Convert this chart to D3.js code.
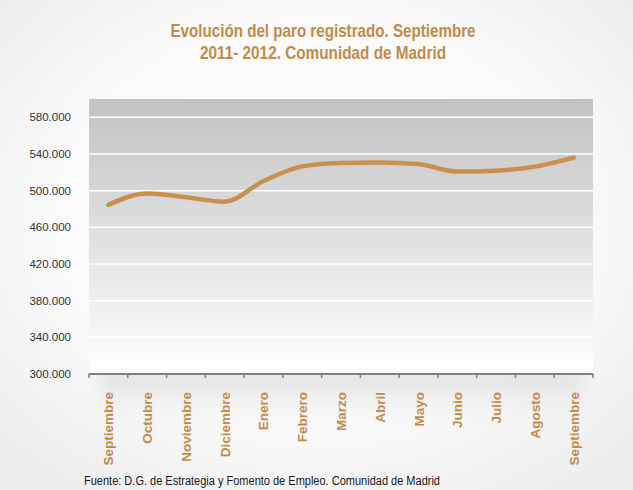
<!DOCTYPE html>
<html><head><meta charset="utf-8">
<script src="https://cdn.jsdelivr.net/npm/d3@7"></script>
<style>html,body{margin:0;padding:0;background:#fff;}svg{display:block;}</style>
</head><body>
<script>
const months = ["Septiembre","Octubre","Noviembre","Diciembre","Enero","Febrero","Marzo","Abril","Mayo","Junio","Julio","Agosto","Septiembre"];
const paro = [484500, 497000, 492800, 488000, 510500, 526500, 530300, 530700, 529000, 520800, 521800, 526200, 536000];
const yTicks = [300000, 340000, 380000, 420000, 460000, 500000, 540000, 580000];
const titleLines = ["Evolución del paro registrado. Septiembre", "2011- 2012. Comunidad de Madrid"];
const source = "Fuente: D.G. de Estrategia y Fomento de Empleo. Comunidad  de Madrid";

const W = 633, H = 490;
const m = {left: 89, right: 40, top: 99, bottom: 116};
const svg = d3.select("body").append("svg").attr("width", W).attr("height", H);
const defs = svg.append("defs");
const bg = defs.append("radialGradient").attr("id","bg").attr("cx","50%").attr("cy","45%").attr("r","70%");
bg.append("stop").attr("offset","0%").attr("stop-color","#ffffff");
bg.append("stop").attr("offset","60%").attr("stop-color","#fafafa");
bg.append("stop").attr("offset","100%").attr("stop-color","#ececec");
const pg = defs.append("linearGradient").attr("id","pg").attr("x1",0).attr("y1",0).attr("x2",0).attr("y2",1);
pg.append("stop").attr("offset","0%").attr("stop-color","#c2c2c2");
pg.append("stop").attr("offset","100%").attr("stop-color","#ffffff");
const sg = defs.append("linearGradient").attr("id","sg").attr("x1",0).attr("y1",0).attr("x2",0).attr("y2",1);
sg.append("stop").attr("offset","0%").attr("stop-color","#dcdcdc").attr("stop-opacity",1);
sg.append("stop").attr("offset","100%").attr("stop-color","#f2f2f2").attr("stop-opacity",0);
defs.append("filter").attr("id","blur").attr("x","-10%").attr("y","-20%").attr("width","120%").attr("height","140%")
  .append("feGaussianBlur").attr("stdDeviation",8);

svg.append("rect").attr("width",W).attr("height",H).attr("fill","url(#bg)");

const x = d3.scaleBand().domain(d3.range(months.length)).range([m.left, W - m.right]);
const y = d3.scaleLinear().domain([300000, 600000]).range([H - m.bottom, m.top]);
const xAxisY = y(300000);

// soft shadow under plot
svg.append("rect").attr("x", m.left + 10).attr("y", xAxisY - 5)
  .attr("width", W - m.right - m.left - 20).attr("height", 60)
  .attr("fill","url(#sg)").attr("filter","url(#blur)");

svg.append("rect").attr("x", m.left).attr("y", m.top)
  .attr("width", W - m.right - m.left).attr("height", H - m.bottom - m.top)
  .attr("fill","url(#pg)");

// gridlines
svg.append("g").selectAll("line").data(yTicks.slice(1)).join("line")
  .attr("x1", m.left).attr("x2", W - m.right)
  .attr("y1", d => y(d)).attr("y2", d => y(d))
  .attr("stroke","#ffffff").attr("stroke-width",1.5);

// y labels
const fmt = d => d3.format(",")(d).replace(/,/g, ".");
svg.append("g").selectAll("text").data(yTicks).join("text")
  .attr("x", 71).attr("y", d => y(d) + 4)
  .attr("text-anchor","end")
  .attr("font-family","Liberation Sans, Arial, sans-serif").attr("font-size",11.5)
  .attr("fill","#333").text(fmt);

// x axis
svg.append("line").attr("x1", m.left).attr("x2", W - m.right)
  .attr("y1", xAxisY).attr("y2", xAxisY).attr("stroke","#7f7f7f").attr("stroke-width",2);
const tickPos = d3.range(months.length).map(i => x(i)).concat([x(months.length-1) + x.bandwidth()]);
svg.append("g").selectAll("line").data(tickPos).join("line")
  .attr("x1", d => d).attr("x2", d => d).attr("y1", xAxisY).attr("y2", xAxisY + 4)
  .attr("stroke","#7f7f7f").attr("stroke-width",1.5);

svg.append("g").selectAll("text").data(months).join("text")
  .attr("transform", (d,i) => `translate(${x(i) + x.bandwidth()/2 + 5},${xAxisY + 18}) rotate(-90)`)
  .attr("text-anchor","end")
  .attr("font-family","Liberation Sans, Arial, sans-serif").attr("font-size",13.5).attr("font-weight","bold")
  .attr("fill","#c48a4a").text(d => d);

// line
const line = d3.line().x((d,i) => x(i) + x.bandwidth()/2).y(d => y(d)).curve(d3.curveMonotoneX);
svg.append("path").datum(paro).attr("d", line).attr("fill","none")
  .attr("stroke","#c8904e").attr("stroke-width",4.5).attr("stroke-linecap","round");

// title
const titleLens = [305, 246];
svg.append("g").selectAll("text").data(titleLines).join("text")
  .attr("x", 323).attr("y", (d,i) => 37 + i*22).attr("text-anchor","middle")
  .attr("font-family","Liberation Sans, Arial, sans-serif").attr("font-size",19).attr("font-weight","bold")
  .attr("textLength", (d,i) => titleLens[i]).attr("lengthAdjust","spacingAndGlyphs")
  .attr("fill","#c48a4a").text(d => d);

svg.append("text").attr("x", 84).attr("y", 485)
  .attr("font-family","Liberation Sans, Arial, sans-serif").attr("font-size",12.5)
  .attr("textLength", 356).attr("lengthAdjust","spacingAndGlyphs")
  .attr("fill","#1a1a1a").text(source);
</script>
</body></html>
